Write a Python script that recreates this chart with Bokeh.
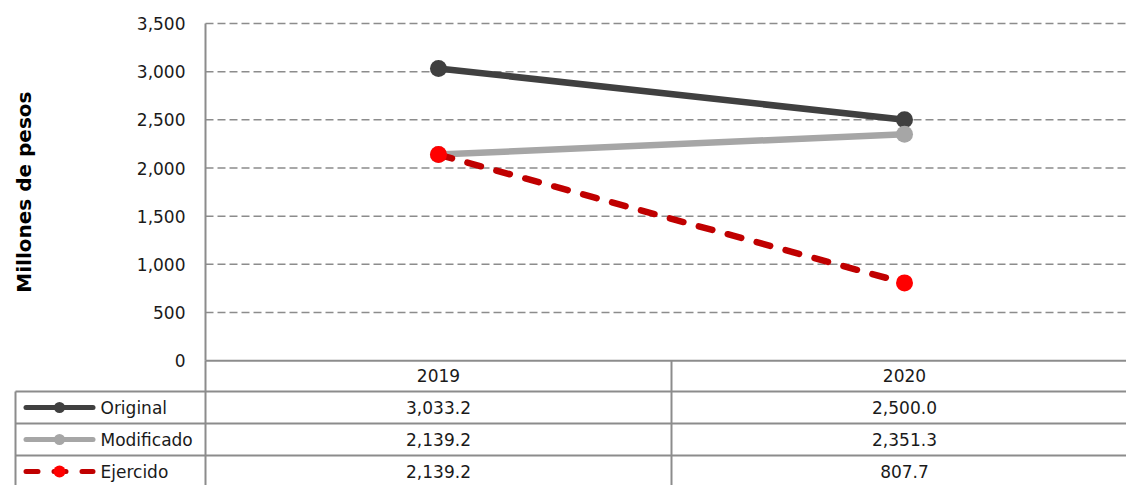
import math
from bokeh.plotting import figure
from bokeh.models import Range1d, FixedTicker, NumeralTickFormatter, LinearAxis
from bokeh.core.properties import value
from bokeh.embed import file_html
from bokeh.resources import INLINE

# ---- data ----
years = ["2019", "2020"]
series_names = ["Original", "Modificado", "Ejercido"]
original = [3033.2, 2500.0]
modificado = [2139.2, 2351.3]
ejercido = [2139.2, 807.7]
y_ticks = [0, 500, 1000, 1500, 2000, 2500, 3000, 3500]
y_title = "Millones de pesos"

# ---- layout constants (pixels) ----
W, H = 1126, 485
AX_X = 205          # pixel x of the value axis
COL_W = 466         # pixel width of one category column
Y_TOP_PX = 23       # pixel y of the top tick
Y_ZERO_PX = 360.2   # pixel y of zero
ROW_TOP_PX = 359    # table row origin
ROW_H = 32          # table row height
TBL_LEFT_PX = 15

FONT = "DejaVu Sans"
TXT = "#1a1a1a"
GRID = "#8c8c8c"

k = (Y_ZERO_PX - Y_TOP_PX) / y_ticks[-1]     # px per value unit
y_top = y_ticks[-1] + Y_TOP_PX / k
y_bot = -(H - Y_ZERO_PX) / k
x_start = -AX_X / COL_W
x_end = (W - AX_X) / COL_W

p = figure(width=W, height=H, x_range=Range1d(x_start, x_end), y_range=Range1d(y_bot, y_top),
           x_axis_location=None, y_axis_location=None, min_border=0,
           output_backend="svg", toolbar_location=None)
p.extra_y_ranges = {"tbl": Range1d(start=(H - ROW_TOP_PX) / ROW_H, end=-ROW_TOP_PX / ROW_H)}
p.outline_line_color = None
p.grid.visible = False
p.background_fill_color = "white"
p.border_fill_color = "white"

# value axis
yax = LinearAxis(fixed_location=0, ticker=FixedTicker(ticks=y_ticks),
                 formatter=NumeralTickFormatter(format="0,0"), bounds=(y_ticks[0], y_ticks[-1]))
yax.major_tick_out = 0
yax.major_tick_in = 0
yax.minor_tick_out = 0
yax.minor_tick_in = 0
yax.major_label_standoff = 20
yax.major_label_text_font = FONT
yax.major_label_text_font_size = "17px"
yax.major_label_text_color = TXT
yax.axis_line_color = GRID
yax.axis_line_width = 2
p.add_layout(yax, "left")

# dashed grid lines and solid zero line
gt = [t for t in y_ticks if t > 0]
p.segment(x0=[0] * len(gt), y0=gt, x1=[x_end] * len(gt), y1=gt,
          line_color=GRID, line_width=1.5, line_dash="8 4")
p.segment(x0=[0], y0=[0], x1=[x_end], y1=[0], line_color=GRID, line_width=2)

# axis title
p.text(x=[(23 - AX_X) / COL_W], y=[(y_ticks[0] + y_ticks[-1]) / 2], text=[y_title], angle=math.pi / 2,
       text_font=value(FONT), text_font_size="20px", text_font_style="bold",
       text_align="center", text_baseline="middle", text_color="black")

# series
xs = [i + 0.5 for i in range(len(years))]
p.line(xs, original, line_color="#404040", line_width=6.5)
p.scatter(xs, original, size=17, fill_color="#404040", line_color=None)
p.line(xs, modificado, line_color="#a6a6a6", line_width=6.5)
p.scatter(xs, modificado, size=17, fill_color="#a6a6a6", line_color=None)
p.line(xs, ejercido, line_color="#c00000", line_width=6.5, line_dash="14 16", line_cap="round")
p.scatter(xs, ejercido, size=17, fill_color="#ff0000", line_color=None)

# ---- data table ----
left_edge = (TBL_LEFT_PX - AX_X) / COL_W
ncat = len(years)
p.segment(x0=[left_edge] * 3, y0=[1, 2, 3], x1=[x_end] * 3, y1=[1, 2, 3],
          line_color=GRID, line_width=2, y_range_name="tbl")
vx = list(range(ncat))
p.segment(x0=vx + [left_edge], y0=[0.03] * ncat + [1], x1=vx + [left_edge], y1=[5] * (ncat + 1),
          line_color=GRID, line_width=2, y_range_name="tbl")

p.text(x=xs, y=[0.5] * ncat, text=years, text_font=value(FONT), text_font_size="17px",
       text_align="center", text_baseline="middle", text_color=TXT, y_range_name="tbl")
for r, vals in enumerate([original, modificado, ejercido]):
    p.text(x=xs, y=[r + 1.5] * len(vals), text=[f"{v:,.1f}" for v in vals],
           text_font=value(FONT), text_font_size="17px",
           text_align="center", text_baseline="middle", text_color=TXT, y_range_name="tbl")

# legend keys inside the table
kx0 = (25.5 - AX_X) / COL_W
kx1 = (92.5 - AX_X) / COL_W
kxm = (59 - AX_X) / COL_W
ktx = (100 - AX_X) / COL_W
p.line([kx0, kx1], [1.5, 1.5], line_color="#404040", line_width=5, line_cap="round", y_range_name="tbl")
p.scatter([kxm], [1.5], size=11, fill_color="#404040", line_color=None, y_range_name="tbl")
p.line([kx0, kx1], [2.5, 2.5], line_color="#a6a6a6", line_width=5, line_cap="round", y_range_name="tbl")
p.scatter([kxm], [2.5], size=11, fill_color="#a6a6a6", line_color=None, y_range_name="tbl")
p.line([kx0, kx1], [3.5, 3.5], line_color="#c00000", line_width=5, line_cap="round",
       line_dash="12 16", y_range_name="tbl")
p.scatter([kxm], [3.5], size=12, fill_color="#ff0000", line_color=None, y_range_name="tbl")
p.text(x=[ktx] * 3, y=[1.5, 2.5, 3.5], text=series_names, text_font=value(FONT),
       text_font_size="17px", text_align="left", text_baseline="middle", text_color=TXT,
       y_range_name="tbl")

open("out.html", "w").write(file_html(p, INLINE))
